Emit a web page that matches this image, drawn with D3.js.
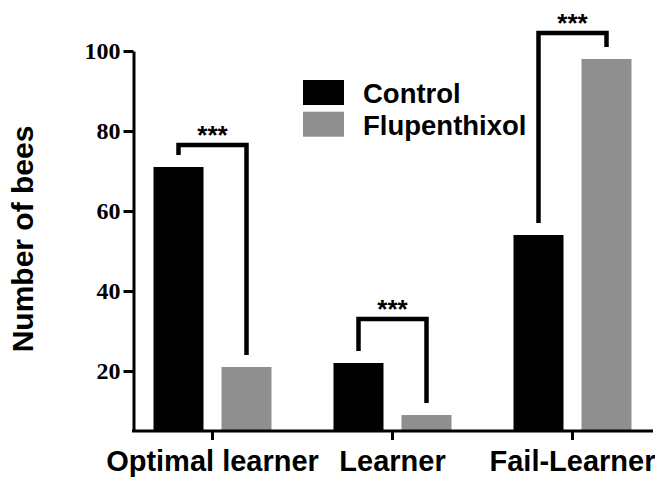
<!DOCTYPE html>
<html>
<head>
<meta charset="utf-8">
<script src="https://cdn.jsdelivr.net/npm/d3@7"></script>
<style>
  html, body { margin: 0; padding: 0; background: #fff; }
  svg { display: block; }
</style>
</head>
<body>
<svg id="chart" width="655" height="477"></svg>
<script>
// Learning categories and bee counts per treatment
const categories = ["Optimal learner", "Learner", "Fail-Learner"];
const series = ["Control", "Flupenthixol"];
const controlValues = [71, 22, 54];
const flupenthixolValues = [21, 9, 98];
const yTicks = [20, 40, 60, 80, 100];
// Height (in bees) of each significance bracket and its label
const bracketLevels = [76.5, 33, 104.5];
const significance = ["***", "***", "***"];

const colors = { Control: "#000000", Flupenthixol: "#8f8f8f" };
const valuesBySeries = { Control: controlValues, Flupenthixol: flupenthixolValues };

const svg = d3.select("#chart");

const y = d3.scaleLinear().domain([5, 100]).range([431, 51]);
const x = d3.scaleBand().domain(categories).range([122.5, 662.5]).padding(0);
const xSub = d3.scaleBand().domain(series).range([-59, 59]).paddingInner(18 / 68).paddingOuter(0);

const axisLeft = 133.5, axisRight = 653;

// Bars
categories.forEach((cat, i) => {
  const cx = x(cat) + x.bandwidth() / 2;
  series.forEach(s => {
    const v = valuesBySeries[s][i];
    svg.append("rect")
      .attr("x", cx + xSub(s))
      .attr("y", y(v))
      .attr("width", xSub.bandwidth())
      .attr("height", y.range()[0] - y(v))
      .attr("fill", colors[s]);
  });
});

// Y axis
const yAxis = svg.append("g")
  .attr("transform", `translate(${axisLeft},0)`)
  .call(d3.axisLeft(y).tickValues(yTicks).tickSize(10).tickSizeOuter(0).tickPadding(3));
yAxis.select(".domain").attr("stroke", "#000").attr("stroke-width", 3);
yAxis.selectAll(".tick line").attr("stroke", "#000").attr("stroke-width", 3);
yAxis.selectAll(".tick text")
  .attr("font-family", "'Liberation Serif', 'Times New Roman', serif")
  .attr("font-weight", "bold")
  .attr("font-size", 24)
  .attr("fill", "#000");

// X axis
const xAxis = svg.append("g")
  .attr("transform", `translate(0,${y.range()[0]})`)
  .call(d3.axisBottom(x).tickSize(9).tickSizeOuter(0).tickPadding(10));
xAxis.select(".domain").attr("d", `M${axisLeft - 1.5},0H${axisRight}`)
  .attr("stroke", "#000").attr("stroke-width", 3);
xAxis.selectAll(".tick line").attr("stroke", "#000").attr("stroke-width", 3);
xAxis.selectAll(".tick text")
  .attr("font-family", "'Liberation Sans', Arial, sans-serif")
  .attr("font-weight", "bold")
  .attr("font-size", 29)
  .attr("fill", "#000")
  .attr("dy", "0.71em");

// Y axis title
svg.append("text")
  .attr("transform", `translate(33,${239}) rotate(-90)`)
  .attr("text-anchor", "middle")
  .attr("font-family", "'Liberation Sans', Arial, sans-serif")
  .attr("font-weight", "bold")
  .attr("font-size", 30)
  .attr("fill", "#000")
  .text("Number of bees");

// Significance brackets
const legGap = 3; // bees between bar top and bracket leg end
categories.forEach((cat, i) => {
  const cx = x(cat) + x.bandwidth() / 2;
  const xl = cx + xSub("Control") + xSub.bandwidth() / 2;
  const xr = cx + xSub("Flupenthixol") + xSub.bandwidth() / 2;
  const top = y(bracketLevels[i]);
  const yl = y(controlValues[i] + legGap);
  const yr = y(flupenthixolValues[i] + legGap);
  svg.append("path")
    .attr("d", `M${xl},${yl}V${top}H${xr}V${yr}`)
    .attr("fill", "none")
    .attr("stroke", "#000")
    .attr("stroke-width", 4.5)
    .attr("stroke-linecap", "butt")
    .attr("stroke-linejoin", "miter");
  svg.append("text")
    .attr("x", (xl + xr) / 2)
    .attr("y", top - 1)
    .attr("text-anchor", "middle")
    .attr("font-family", "'Liberation Sans', Arial, sans-serif")
    .attr("font-weight", "bold")
    .attr("font-size", 26)
    .attr("fill", "#000")
    .text(significance[i]);
});

// Legend
const legend = svg.append("g").attr("transform", "translate(303,80)");
series.forEach((s, i) => {
  const g = legend.append("g").attr("transform", `translate(0,${i * 31.7})`);
  g.append("rect").attr("width", 41).attr("height", 25).attr("fill", colors[s]);
  g.append("text")
    .attr("x", 60)
    .attr("y", 23.3)
    .attr("font-family", "'Liberation Sans', Arial, sans-serif")
    .attr("font-weight", "bold")
    .attr("font-size", 27.5)
    .attr("fill", "#000")
    .text(s);
});
</script>
</body>
</html>
